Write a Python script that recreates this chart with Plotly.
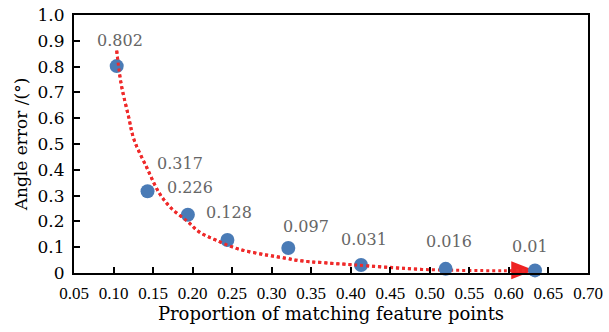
import plotly.graph_objects as go

# ---- data ----
proportion = [0.104, 0.143, 0.194, 0.244, 0.321, 0.413, 0.520, 0.633]
angle_error = [0.802, 0.317, 0.226, 0.128, 0.097, 0.031, 0.016, 0.01]

# dotted trend curve
trend_x = [0.104, 0.1095, 0.119, 0.126, 0.142, 0.158, 0.173, 0.194, 0.208,
           0.229, 0.259, 0.293, 0.318, 0.335, 0.406, 0.490, 0.591, 0.632]
trend_y = [0.862, 0.735, 0.606, 0.516, 0.409, 0.309, 0.251, 0.199, 0.160,
           0.128, 0.092, 0.070, 0.057, 0.048, 0.031, 0.014, 0.009, 0.011]

x_ticks = [0.05, 0.10, 0.15, 0.20, 0.25, 0.30, 0.35, 0.40, 0.45, 0.50, 0.55, 0.60, 0.65, 0.70]
y_ticks = [0, 0.1, 0.2, 0.3, 0.4, 0.5, 0.6, 0.7, 0.8, 0.9, 1.0]
y_tick_text = ["0", "0.1", "0.2", "0.3", "0.4", "0.5", "0.6", "0.7", "0.8", "0.9", "1.0"]

# label pixel offsets (style)
label_dx = [3, 32, 2, 2, 18, 3, 3, -5]
label_dy = [26, 28, 27, 27, 21, 26, 27, 24]

BLUE = "#4a7bb6"
RED = "#ef2a2a"
SERIF = "DejaVu Serif"

fig = go.Figure()

fig.add_trace(go.Scatter(
    x=trend_x, y=trend_y, mode="lines", line_shape="spline",
    line=dict(color=RED, width=3, dash="3px,3px"),
    showlegend=False, cliponaxis=False))

fig.add_trace(go.Scatter(
    x=proportion, y=angle_error, mode="markers",
    marker=dict(color=BLUE, size=14, line=dict(width=0)),
    showlegend=False, cliponaxis=False))

# dotted line drawn over the markers (as in the reference)
fig.add_trace(go.Scatter(
    x=trend_x[:-2], y=trend_y[:-2], mode="lines", line_shape="spline",
    line=dict(color=RED, width=3, dash="3px,3px"),
    showlegend=False, cliponaxis=False))

# arrow head at the end of the trend curve (y axis spans the whole paper 0..1)
fig.add_shape(type="path", xref="x", yref="paper",
              xsizemode="pixel", ysizemode="pixel",
              xanchor=trend_x[-1], yanchor=trend_y[-1],
              path="M -23,-9 L 0,0 L -23,9 Z",
              fillcolor="#ee2222", line=dict(width=0), layer="below")

for x, y, dx, dy in zip(proportion, angle_error, label_dx, label_dy):
    fig.add_annotation(x=x, y=y, text=f"{y:g}", showarrow=False,
                       xshift=dx, yshift=dy,
                       font=dict(family=SERIF, size=16, color="#666666"))

fig.update_layout(
    template="none",
    width=609, height=332,
    margin=dict(l=74, r=21, t=15, b=59),
    paper_bgcolor="white", plot_bgcolor="white",
    font=dict(family=SERIF, color="black"),
)

fig.update_xaxes(
    automargin=False,
    range=[0.05, 0.70], tickvals=x_ticks, tickformat=".2f",
    showgrid=False, zeroline=False,
    showline=True, linecolor="black", linewidth=2, mirror=True,
    ticks="inside", ticklen=6, tickwidth=1.5, tickcolor="black",
    tickfont=dict(family="Liberation Serif", size=17, color="black"),
    ticklabelstandoff=4,
    title=dict(text="Proportion of matching feature points",
               font=dict(family=SERIF, size=18, color="black"), standoff=3),
)

fig.update_yaxes(
    automargin=False,
    range=[0, 1.0], tickvals=y_ticks, ticktext=y_tick_text,
    showgrid=False, zeroline=False,
    showline=True, linecolor="black", linewidth=2, mirror=True,
    ticks="inside", ticklen=6, tickwidth=1.5, tickcolor="black",
    tickfont=dict(family=SERIF, size=17, color="black"),
    ticklabelstandoff=4,
    title=dict(text="Angle error /(°)",
               font=dict(family=SERIF, size=17, color="black"), standoff=6),
)

fig.write_html("out.html", config={"displayModeBar": False},
               post_script="document.body.style.margin='0px';")
